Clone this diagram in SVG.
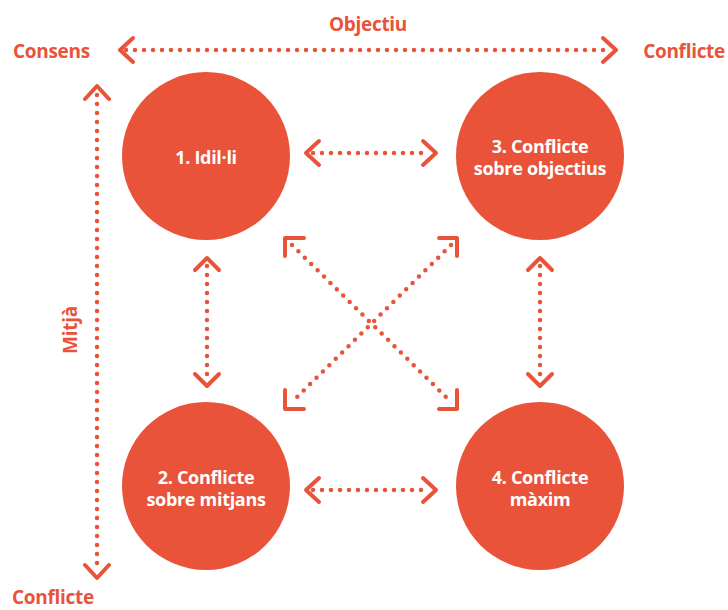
<svg xmlns="http://www.w3.org/2000/svg" width="728" height="610" viewBox="0 0 728 610">
<style>
.c{fill:#E8533A}
.t{font-family:"Open Sans","Noto Sans",sans-serif;font-weight:bold;font-size:18px;fill:#fff;text-anchor:middle;letter-spacing:-0.3px}
.l{font-family:"Open Sans","Noto Sans",sans-serif;font-weight:bold;font-size:19px;fill:#E8533A;letter-spacing:-0.3px}
.d{stroke:#E8533A;stroke-width:4.5;stroke-linecap:round;stroke-dasharray:0 9;fill:none}
.h{stroke:#E8533A;stroke-width:4;stroke-linecap:round;stroke-linejoin:round;fill:none}
</style>
<rect width="728" height="610" fill="#fff"/>
<g id="labels">
<text class="l" x="368" y="31" text-anchor="middle">Objectiu</text>
<text class="l" x="13" y="58">Consens</text>
<text class="l" x="725" y="58" text-anchor="end">Conflicte</text>
<text class="l" x="12" y="604">Conflicte</text>
<text class="l" transform="translate(77,330) rotate(-90)" text-anchor="middle">Mitjà</text>
</g>
<g id="connectors">
<path class="d" d="M126 50H612"/>
<path class="h" d="M133 38L120 50L133 62M603 38L616 50L603 62"/>
<path class="d" d="M97 95V570"/>
<path class="h" d="M85 99L97 86L109 99M85 565L97 578L109 565"/>
<path class="d" d="M313 153H430"/>
<path class="h" d="M319 141L306 153L319 165M423 141L436 153L423 165"/>
<path class="d" d="M313 490H430"/>
<path class="h" d="M319 478L306 490L319 502M423 478L436 490L423 502"/>
<path class="d" d="M207 266V377"/>
<path class="h" d="M195 270L207 258L219 270M195 374L207 386L219 374"/>
<path class="d" d="M540 266V377"/>
<path class="h" d="M528 270L540 258L552 270M528 374L540 386L552 374"/>
<path class="d" d="M292 245L451 402"/>
<path class="d" d="M451 245L292 402"/>
<path class="h" d="M285 256L285 238L304 238M439 238L457 238L457 256M285 390L285 409L304 409M439 409L457 409L457 390"/>
</g>
<g id="n1"><circle class="c" cx="206" cy="156" r="84"/><text class="t" x="206" y="164">1. Idil·li</text></g>
<g id="n3"><circle class="c" cx="540" cy="156" r="84"/><text class="t" x="540" y="153">3. Conflicte</text><text class="t" x="540" y="175">sobre objectius</text></g>
<g id="n2"><circle class="c" cx="206" cy="486" r="84"/><text class="t" x="206" y="484">2. Conflicte</text><text class="t" x="206" y="506">sobre mitjans</text></g>
<g id="n4"><circle class="c" cx="540" cy="486" r="84"/><text class="t" x="540" y="484">4. Conflicte</text><text class="t" x="540" y="506">màxim</text></g>
</svg>
